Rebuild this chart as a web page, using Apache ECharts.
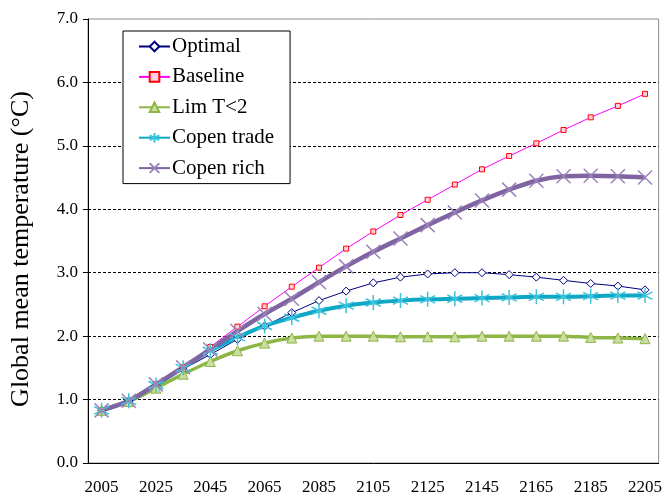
<!DOCTYPE html>
<html>
<head>
<meta charset="utf-8">
<script src="https://cdn.jsdelivr.net/npm/echarts@6/dist/echarts.min.js"></script>
<style>html,body{margin:0;padding:0;background:#fff}#c{width:665px;height:496px}</style>
</head>
<body>
<div id="c"></div>
<script>
var years = ['2005','2015','2025','2035','2045','2055','2065','2075','2085','2095','2105','2115','2125','2135','2145','2155','2165','2175','2185','2195','2205'];
var optimal = [0.83, 0.98, 1.22, 1.48, 1.71, 1.95, 2.16, 2.37, 2.56, 2.71, 2.84, 2.93, 2.98, 3.00, 3.00, 2.97, 2.93, 2.88, 2.83, 2.79, 2.73];
var baseline = [0.83, 0.98, 1.24, 1.51, 1.83, 2.15, 2.47, 2.78, 3.08, 3.38, 3.65, 3.91, 4.15, 4.39, 4.63, 4.84, 5.04, 5.25, 5.45, 5.63, 5.82];
var limT2 = [0.83, 0.97, 1.18, 1.40, 1.60, 1.77, 1.89, 1.97, 2.00, 2.00, 2.00, 1.99, 1.99, 1.99, 2.00, 2.00, 2.00, 2.00, 1.98, 1.97, 1.96];
var copenTrade = [0.83, 0.98, 1.23, 1.50, 1.77, 1.98, 2.16, 2.29, 2.40, 2.48, 2.53, 2.56, 2.58, 2.59, 2.60, 2.61, 2.62, 2.62, 2.63, 2.64, 2.64];
var copenRich = [0.83, 0.98, 1.24, 1.51, 1.79, 2.08, 2.35, 2.59, 2.85, 3.10, 3.33, 3.54, 3.75, 3.95, 4.14, 4.31, 4.45, 4.52, 4.53, 4.52, 4.50];
var seriesNames = ['Optimal', 'Baseline', 'Lim T<2', 'Copen trade', 'Copen rich'];
var yTitle = 'Global mean temperature (°C)';

var FONT = 'Liberation Serif';
var asterisk = 'path://M0,-10 L0,10 M-8.66,-5 L8.66,5 M-8.66,5 L8.66,-5';
var cross = 'path://M-10,-10 L10,10 M-10,10 L10,-10';

var chart = echarts.init(document.getElementById('c'));
chart.setOption({
  animation: false,
  backgroundColor: '#fff',
  textStyle: { fontFamily: FONT, color: '#000' },
  grid: { left: 87, right: 6, top: 19, bottom: 32, show: true, borderColor: '#8c8c8c', borderWidth: 1, backgroundColor: 'transparent' },
  legend: {
    orient: 'vertical', left: 123, top: 31,
    backgroundColor: '#fff', borderColor: '#000', borderWidth: 1,
    padding: [5, 16, 5, 15],
    itemWidth: 31, itemHeight: 12, itemGap: 9.4,
    textStyle: { fontFamily: FONT, fontSize: 21, color: '#000', lineHeight: 21, padding: [0, 0, 0, -3] },
    data: seriesNames
  },
  xAxis: {
    type: 'category', data: years, boundaryGap: true,
    axisLine: { lineStyle: { color: '#000', width: 1 } },
    axisTick: { interval: 0, length: 5, lineStyle: { color: '#000' } },
    axisLabel: { interval: 1, fontFamily: FONT, fontSize: 17, color: '#000', margin: 16 },
    splitLine: { show: false }
  },
  yAxis: {
    type: 'value', min: 0, max: 7, interval: 1,
    name: yTitle, nameLocation: 'middle', nameGap: 54,
    nameTextStyle: { fontFamily: FONT, fontSize: 26, color: '#000', padding: [0, 16, 0, 0] },
    axisLine: { show: true, lineStyle: { color: '#000', width: 1 } },
    axisTick: { show: true, length: 5, lineStyle: { color: '#000' } },
    axisLabel: { fontFamily: FONT, fontSize: 17, color: '#000', margin: 10, formatter: function (v) { return v.toFixed(1); } },
    splitLine: { show: true, showMinLine: false, showMaxLine: false, lineStyle: { color: '#000', width: 1, type: [3, 2] } }
  },
  series: [
    { name: seriesNames[0], type: 'line', data: optimal, symbol: 'diamond', symbolSize: 8,
      lineStyle: { color: '#000080', width: 1 },
      itemStyle: { color: '#fff', borderColor: '#000080', borderWidth: 1 } },
    { name: seriesNames[1], type: 'line', data: baseline, symbol: 'rect', symbolSize: 5,
      lineStyle: { color: '#ff00ff', width: 1 },
      itemStyle: { color: '#ffd0e0', borderColor: '#ff0000', borderWidth: 1 } },
    { name: seriesNames[2], type: 'line', data: limT2, symbol: 'triangle', symbolSize: 10, smooth: 0.3,
      lineStyle: { color: '#8db645', width: 3.5 },
      itemStyle: { color: '#c9dea0', borderColor: '#8db645', borderWidth: 1 } },
    { name: seriesNames[3], type: 'line', data: copenTrade, symbol: asterisk, symbolSize: 15, smooth: 0.3,
      lineStyle: { color: '#0ea8c6', width: 4 },
      itemStyle: { color: '#3cc3dc', borderColor: '#3cc3dc', borderWidth: 1.5 } },
    { name: seriesNames[4], type: 'line', data: copenRich, symbol: cross, symbolSize: 14, smooth: 0.3,
      lineStyle: { color: '#8064a2', width: 4.5 },
      itemStyle: { color: '#9a84bb', borderColor: '#9a84bb', borderWidth: 1.5 } }
  ]
});
</script>
</body>
</html>
